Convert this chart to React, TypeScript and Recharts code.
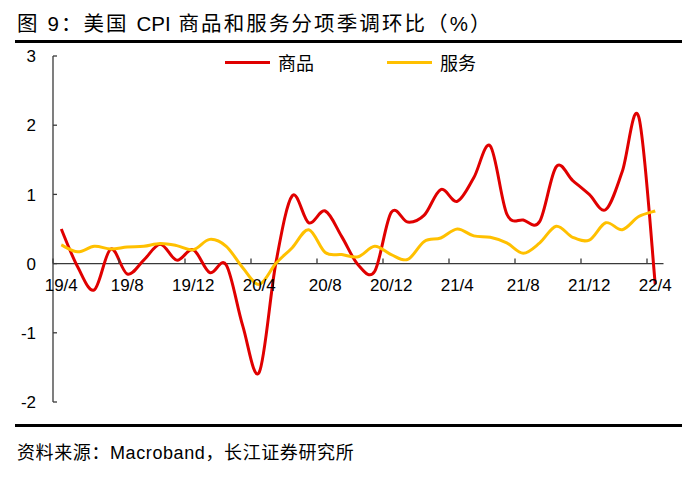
import React from 'react';
import { LineChart, Line, XAxis, YAxis, ReferenceLine, Legend } from 'recharts';

const months = [
  '19/4', '19/5', '19/6', '19/7', '19/8', '19/9', '19/10', '19/11', '19/12',
  '20/1', '20/2', '20/3', '20/4', '20/5', '20/6', '20/7', '20/8', '20/9', '20/10', '20/11', '20/12',
  '21/1', '21/2', '21/3', '21/4', '21/5', '21/6', '21/7', '21/8', '21/9', '21/10', '21/11', '21/12',
  '22/1', '22/2', '22/3', '22/4',
];

const goods = [
  0.5, -0.05, -0.38, 0.21, -0.15, 0.05, 0.28, 0.05, 0.2,
  -0.13, -0.02, -0.9, -1.57, 0.0, 0.98, 0.59, 0.76, 0.39, -0.02, -0.11, 0.74,
  0.6, 0.7, 1.07, 0.9, 1.24, 1.7, 0.72, 0.63, 0.61, 1.4, 1.2, 1.0,
  0.78, 1.33, 2.12, -0.3,
];

const services = [
  0.27, 0.17, 0.25, 0.21, 0.24, 0.25, 0.29, 0.26, 0.2,
  0.35, 0.25, -0.06, -0.3, 0.0, 0.23, 0.49, 0.16, 0.13, 0.1, 0.25, 0.13,
  0.06, 0.32, 0.37, 0.5, 0.4, 0.38, 0.3, 0.15, 0.3, 0.54, 0.38, 0.34,
  0.59, 0.49, 0.68, 0.76,
];

const yTicks = [-2, -1, 0, 1, 2, 3];
const Y_MIN = -2;
const Y_MAX = 3;

const data = months.map((m, i) => ({ month: m, goods: goods[i], services: services[i] }));

const W = 692;
const H = 477;
const PLOT_LEFT = 53;
const PLOT_RIGHT = 663.5;
const PLOT_TOP = 56;
const PLOT_BOTTOM = 402;
const Y_AXIS_W = 40;
const X_AXIS_H = 30;
const PLOT_W = PLOT_RIGHT - PLOT_LEFT;
const PLOT_H = PLOT_BOTTOM - PLOT_TOP;
const BAND = PLOT_W / months.length;
const ZERO_Y = PLOT_TOP + (PLOT_H * (Y_MAX - 0)) / (Y_MAX - Y_MIN);

const RED = '#E00000';
const YELLOW = '#FFC000';
const AXIS = '#3a3a3a';
const FONT = '"Liberation Sans", Arial, "Noto Sans CJK SC", sans-serif';

// Excel-like smoothing (Catmull-Rom converted to cubic Bezier)
function smoothCurve(context: any) {
  let pts: number[][] = [];
  return {
    areaStart() {},
    areaEnd() {},
    lineStart() {
      pts = [];
    },
    point(x: number, y: number) {
      pts.push([+x, +y]);
    },
    lineEnd() {
      const n = pts.length;
      if (!n) return;
      context.moveTo(pts[0][0], pts[0][1]);
      for (let i = 0; i < n - 1; i++) {
        const p0 = pts[i - 1] || pts[i];
        const p1 = pts[i];
        const p2 = pts[i + 1];
        const p3 = pts[i + 2] || p2;
        const c1x = p1[0] + (p2[0] - p0[0]) / 6;
        const c1y = p1[1] + (p2[1] - p0[1]) / 6;
        const c2x = p2[0] - (p3[0] - p1[0]) / 6;
        const c2y = p2[1] - (p3[1] - p1[1]) / 6;
        context.bezierCurveTo(c1x, c1y, c2x, c2y, p2[0], p2[1]);
      }
    },
  };
}

const XTick = (props: any) => {
  const { x, payload } = props;
  const bx = x - BAND / 2;
  return (
    <g>
      <line x1={bx} x2={bx} y1={ZERO_Y} y2={ZERO_Y - 5} stroke={AXIS} strokeWidth={1.3} />
      <text x={x} y={ZERO_Y + 27} textAnchor="middle" fontSize={17} fontFamily={FONT} fill="#000">
        {payload.value}
      </text>
    </g>
  );
};

const YTick = (props: any) => {
  const { x, y, payload } = props;
  return (
    <g>
      <line x1={x} x2={x + 4} y1={y} y2={y} stroke={AXIS} strokeWidth={1.3} />
      <text x={x - 17} y={y} dy="0.36em" textAnchor="end" fontSize={17} fontFamily={FONT} fill="#000">
        {payload.value}
      </text>
    </g>
  );
};

const LegendContent = (props: any) => {
  const items = props.payload || [];
  return (
    <div style={{ display: 'flex', alignItems: 'center', paddingLeft: 225, height: 24 }}>
      {items.map((it: any, i: number) => (
        <div key={i} style={{ display: 'flex', alignItems: 'center', marginRight: 73 }}>
          <div style={{ width: 45, height: 3, background: it.color }} />
          <span
            style={{
              marginLeft: 8,
              fontSize: 18,
              fontFamily: '"Noto Sans CJK SC", sans-serif',
              color: '#000',
              lineHeight: '24px',
            }}
          >
            {it.value}
          </span>
        </div>
      ))}
    </div>
  );
};

export default function App() {
  return (
    <div
      style={{
        position: 'absolute',
        left: 0,
        top: 0,
        width: W,
        height: H,
        background: '#fff',
        fontFamily: FONT,
        overflow: 'hidden',
      }}
    >
      <div
        style={{
          position: 'absolute',
          left: 17,
          top: 12,
          fontSize: 20.5,
          lineHeight: '24px',
          letterSpacing: 2.1,
          color: '#000',
          whiteSpace: 'nowrap',
        }}
      >
        图 9：美国 <span style={{ letterSpacing: 0 }}>CPI</span> 商品和服务分项季调环比（%）
      </div>
      <div style={{ position: 'absolute', left: 15, top: 40, width: 667, height: 3, background: '#000' }} />

      <div style={{ position: 'absolute', left: 0, top: 0 }}>
        <LineChart
          width={W}
          height={H}
          data={data}
          margin={{
            top: PLOT_TOP,
            right: W - PLOT_RIGHT,
            bottom: H - PLOT_BOTTOM - X_AXIS_H,
            left: PLOT_LEFT - Y_AXIS_W,
          }}
        >
          <XAxis
            dataKey="month"
            height={X_AXIS_H}
            interval={3}
            axisLine={false}
            tickLine={false}
            tick={<XTick />}
            padding={{ left: BAND / 2, right: BAND / 2 }}
          />
          <YAxis
            width={Y_AXIS_W}
            domain={[Y_MIN, Y_MAX]}
            ticks={yTicks}
            interval={0}
            tickSize={0}
            tickMargin={0}
            tickLine={false}
            axisLine={{ stroke: AXIS, strokeWidth: 1.3 }}
            tick={<YTick />}
          />
          <ReferenceLine y={0} stroke={AXIS} strokeWidth={1.3} />
          <Legend
            layout="vertical"
            align="center"
            verticalAlign="middle"
            wrapperStyle={{ top: 50, left: 0, width: W, height: 24 }}
            content={<LegendContent />}
          />
          <Line
            name="商品"
            dataKey="goods"
            stroke={RED}
            strokeWidth={3}
            dot={false}
            type={smoothCurve as any}
            isAnimationActive={false}
          />
          <Line
            name="服务"
            dataKey="services"
            stroke={YELLOW}
            strokeWidth={3}
            dot={false}
            type={smoothCurve as any}
            isAnimationActive={false}
          />
        </LineChart>
      </div>

      <div style={{ position: 'absolute', left: 15, top: 424, width: 667, height: 3, background: '#000' }} />
      <div
        style={{
          position: 'absolute',
          left: 17,
          top: 442,
          fontSize: 18,
          lineHeight: '22px',
          letterSpacing: 0.6,
          color: '#000',
          whiteSpace: 'nowrap',
        }}
      >
        资料来源：Macroband，长江证券研究所
      </div>
    </div>
  );
}
